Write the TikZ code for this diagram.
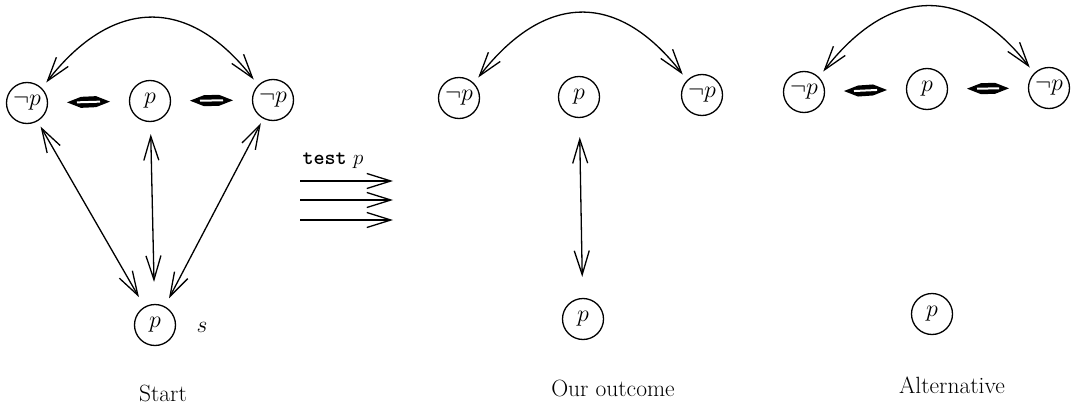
\RequirePackage{fix-cm}
\documentclass[tikz,border=0pt]{standalone}
\usepackage{fontspec}
\usetikzlibrary{arrows.meta,calc}
\tikzset{
  st/.style={circle, draw, line width=1.3pt, minimum size=41pt, inner sep=0pt, font=\fontsize{24}{28}\selectfont},
  barb/.tip={Straight Barb[length=24pt,width=15pt,line width=1.3pt]},
  conn/.style={line width=1.3pt, {barb}-{barb}},
  one/.style={line width=1.3pt, -{barb}},
  lbl/.style={font=\fontsize{23.5}{28}\selectfont, inner sep=0pt},
}
\newcommand\lensbetween[2]{%
  \path ($(#1)!40pt!(#2)$) coordinate (lp1) ($(#2)!40pt!(#1)$) coordinate (lp2);
  \fill (lp1) -- ($(lp1)+(14,-5.5)$) -- ($(lp2)+(-14,-5.5)$) -- (lp2) -- ($(lp2)+(-14,5.5)$) -- ($(lp1)+(14,5.5)$) -- cycle;
  \draw[white, line width=2pt] ($(lp1)+(10,0)$) -- ($(lp2)+(-10,0)$);}
\begin{document}
\begin{tikzpicture}[x=1pt,y=-1pt]
\useasboundingbox (0,0) rectangle (1071,412);
% Start panel
\node[st] (sL) at (27,103) {$\neg p$};
\node[st] (sC) at (150,101) {$p$};
\node[st] (sR) at (273,100) {$\neg p$};
\node[st] (sB) at (155,325) {$p$};
\node[lbl] (slab) at (202,327) {$s$};
\node[lbl] (start) at (163,393) {Start};
\draw[conn, shorten <=7pt, shorten >=7pt] (sL.45) .. controls +(70,-90) and +(-70,-90) .. (sR.135);
\lensbetween{sL}{sC}
\lensbetween{sC}{sR}
\draw[conn, shorten <=6pt, shorten >=11pt] (sL) -- (sB);
\draw[conn, shorten <=12pt, shorten >=22pt] (sC) -- (sB);
\draw[conn, shorten <=5pt, shorten >=9pt] (sR) -- (sB);
% transition
\node[font=\fontsize{21}{24}\selectfont, inner sep=0pt] (test) at (333,161) {\texttt{\textbf{test}}~$p$};
\coordinate (a1) at (300,181); \coordinate (b1) at (393,181);
\coordinate (a2) at (300,200); \coordinate (b2) at (393,200);
\coordinate (a3) at (300,220); \coordinate (b3) at (393,220);
\draw[one] (a1) -- (b1);
\draw[one] (a2) -- (b2);
\draw[one] (a3) -- (b3);
% Our outcome
\node[st] (mL) at (459,98) {$\neg p$};
\node[st] (mC) at (579,97) {$p$};
\node[st] (mR) at (702,95) {$\neg p$};
\node[st] (mB) at (583,319) {$p$};
\node[lbl] (outc) at (613,388) {Our outcome};
\draw[conn, shorten <=7pt, shorten >=7pt] (mL.45) .. controls +(70,-90) and +(-70,-90) .. (mR.135);
\draw[conn, shorten <=19pt, shorten >=21pt] (mC) -- (mB);
% Alternative
\node[st] (rL) at (804,92) {$\neg p$};
\node[st] (rC) at (927,89) {$p$};
\node[st] (rR) at (1049,88) {$\neg p$};
\node[st] (rB) at (932,314) {$p$};
\node[lbl] (alt) at (952,385) {Alternative};
\draw[conn, shorten <=7pt, shorten >=7pt] (rL.45) .. controls +(70,-90) and +(-70,-90) .. (rR.135);
\lensbetween{rL}{rC}
\lensbetween{rC}{rR}
\end{tikzpicture}
\end{document}
